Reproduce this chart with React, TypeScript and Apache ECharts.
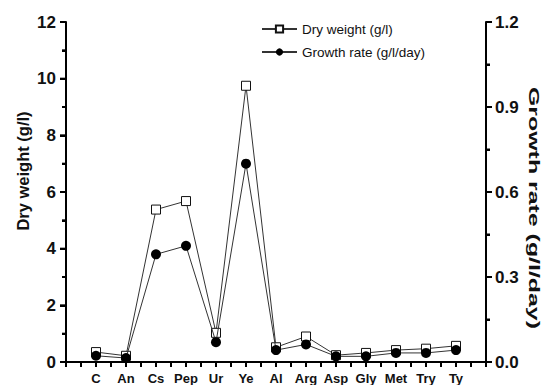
import React, { useEffect, useRef } from "react";
import * as echarts from "echarts";

const categories = ["C", "An", "Cs", "Pep", "Ur", "Ye", "Al", "Arg", "Asp", "Gly", "Met", "Try", "Ty"];
const dryWeight = [0.35, 0.22, 5.38, 5.68, 1.03, 9.75, 0.52, 0.9, 0.24, 0.32, 0.42, 0.47, 0.57];
const growthRate = [0.022, 0.014, 0.38, 0.41, 0.07, 0.7, 0.042, 0.062, 0.02, 0.02, 0.032, 0.032, 0.042];
const leftTicks = { min: 0, max: 12, interval: 2 };
const rightTicks = { min: 0, max: 1.2, interval: 0.3 };

const FONT = '"Liberation Sans", Arial, sans-serif';

function tickValues(min: number, max: number, interval: number) {
  const out: number[][] = [];
  const step = interval / 2;
  const n = Math.round((max - min) / step);
  for (let i = 0; i <= n; i++) out.push([min + i * step, i % 2 === 0 ? 6 : 4]);
  return out;
}

export default function App() {
  const ref = useRef<HTMLDivElement>(null);
  useEffect(() => {
    if (!ref.current) return;
    const chart = echarts.init(ref.current, null, { renderer: "svg" });
    const xMax = categories.length + 1;
    const mkAxisLine = () => ({ show: true, onZero: false, lineStyle: { color: "#000", width: 2 } });
    const mkTick = (len: number) => ({ show: true, length: len, lineStyle: { color: "#000", width: 2 } });
    const mkMinor = (len: number) => ({ show: true, splitNumber: 2, length: len, lineStyle: { color: "#000", width: 2 } });
    const texts = [
      {
        type: "text",
        x: 23,
        y: 171,
        rotation: Math.PI / 2,
        style: {
          text: "Dry weight (g/l)",
          font: `bold 16.5px ${FONT}`,
          fill: "#111",
          align: "center",
          verticalAlign: "middle",
        },
      },
      {
        type: "text",
        x: 534,
        y: 208,
        rotation: -Math.PI / 2,
        scaleX: 1.66,
        style: {
          text: "Growth rate (g/l/day)",
          font: `bold 15px ${FONT}`,
          fill: "#111",
          align: "center",
          verticalAlign: "middle",
        },
      },
    ];
    chart.setOption({
      animation: false,
      grid: { left: 66, right: 58, top: 22, bottom: 23 },
      legend: {
        orient: "vertical",
        left: 256,
        top: 17,
        itemWidth: 35,
        itemHeight: 9,
        itemGap: 9,
        textStyle: { fontSize: 13.5, color: "#111", fontFamily: FONT },
        data: ["Dry weight (g/l)", "Growth rate (g/l/day)"],
      },
      xAxis: {
        type: "value",
        min: 0,
        max: xMax,
        interval: 1,
        axisLine: mkAxisLine(),
        axisTick: mkTick(5),
        minorTick: mkMinor(5),
        splitLine: { show: false },
        axisLabel: {
          margin: 10,
          fontSize: 13,
          fontWeight: "bold",
          color: "#111",
          fontFamily: FONT,
          formatter: (v: number) => categories[Math.round(v) - 1] ?? "",
        },
      },
      yAxis: [
        {
          type: "value",
          ...leftTicks,
          position: "left",
          axisLine: mkAxisLine(),
          axisTick: mkTick(6),
          minorTick: mkMinor(4),
          splitLine: { show: false },
          axisLabel: { margin: 10, fontSize: 17, fontWeight: "bold", color: "#111", fontFamily: FONT },
        },
        {
          type: "value",
          ...rightTicks,
          position: "right",
          axisLine: mkAxisLine(),
          axisTick: mkTick(6),
          minorTick: mkMinor(4),
          splitLine: { show: false },
          axisLabel: {
            margin: 9,
            fontSize: 17,
            fontWeight: "bold",
            color: "#111",
            fontFamily: FONT,
            formatter: (v: number) => v.toFixed(1),
          },
        },
      ],
      graphic: texts,
      series: [
        {
          name: "Dry weight (g/l)",
          type: "line",
          yAxisIndex: 0,
          data: dryWeight.map((v, i) => [i + 1, v]),
          symbol: "rect",
          symbolSize: 9,
          lineStyle: { color: "#333", width: 1 },
          itemStyle: { color: "#fff", borderColor: "#111", borderWidth: 1 },
          z: 2,
        },
        {
          name: "Growth rate (g/l/day)",
          type: "line",
          yAxisIndex: 1,
          data: growthRate.map((v, i) => [i + 1, v]),
          symbol: "circle",
          symbolSize: 10,
          lineStyle: { color: "#333", width: 1 },
          itemStyle: { color: "#000", borderColor: "#000", borderWidth: 0 },
          z: 3,
        },
      ],
    });
    try {
      const tickLines: any[] = [];
      const st = { stroke: "#000", lineWidth: 2 };
      const f0 = { xAxisIndex: 0, yAxisIndex: 0 };
      const f1 = { xAxisIndex: 0, yAxisIndex: 1 };
      tickValues(0, xMax, 1).forEach(([v]) => {
        const p = chart.convertToPixel(f0 as any, [v, 0]) as number[];
        if (p) tickLines.push({ type: "line", z: 100, silent: true, shape: { x1: p[0], y1: p[1], x2: p[0], y2: p[1] + 5 }, style: st });
      });
      tickValues(leftTicks.min, leftTicks.max, leftTicks.interval).forEach(([v, len]) => {
        const p = chart.convertToPixel(f0 as any, [0, v]) as number[];
        if (p) tickLines.push({ type: "line", z: 100, silent: true, shape: { x1: p[0], y1: p[1], x2: p[0] - len, y2: p[1] }, style: st });
      });
      tickValues(rightTicks.min, rightTicks.max, rightTicks.interval).forEach(([v, len]) => {
        const p = chart.convertToPixel(f1 as any, [xMax, v]) as number[];
        if (p) tickLines.push({ type: "line", z: 100, silent: true, shape: { x1: p[0], y1: p[1], x2: p[0] + len, y2: p[1] }, style: st });
      });
      chart.setOption({ graphic: [...texts, ...tickLines] }, { replaceMerge: ["graphic"] });
    } catch (e) {
      // keep chart as is
    }
    return () => chart.dispose();
  }, []);
  return (
    <div style={{ position: "fixed", left: 0, top: 0, width: 544, height: 385, background: "#fff" }}>
      <div ref={ref} style={{ width: 544, height: 385 }} />
    </div>
  );
}
